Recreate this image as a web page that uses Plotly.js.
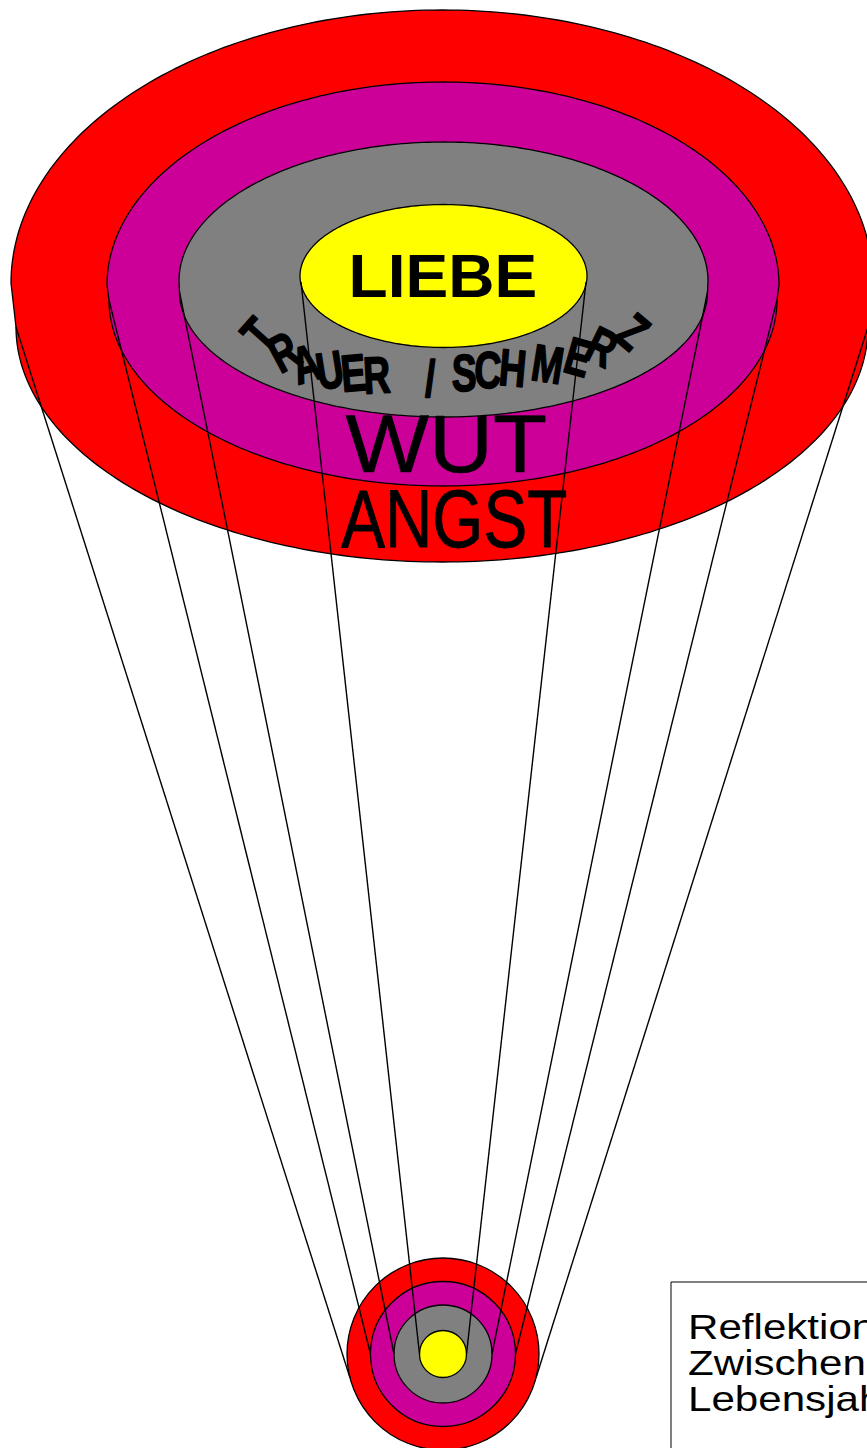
<!DOCTYPE html>
<html>
<head>
<meta charset="utf-8">
<script src="https://cdn.plot.ly/plotly-3.0.1.min.js"></script>
<style>html,body{margin:0;padding:0;background:#fff;overflow:hidden}</style>
</head>
<body>
<div id="chart" style="width:867px;height:1448px"></div>
<script>
// ---- data: layers from outside to inside ----
var layerNames  = ['ANGST', 'WUT', 'TRAUER / SCHMERZ', 'LIEBE'];
var layerColors = ['#FF0000', '#CC0099', '#808080', '#FFFF00'];
// top (rim) ellipse of each layer
var topCx = [442, 443, 443.5, 443.5];
var topCy = [283, 285, 281, 276];
var topRx = [431, 336, 264.5, 143.5];
var topRy = [273, 203, 139, 71.5];
// lower (body) ellipse of each layer
var baseCy = [327, 300, 292, 282];
var baseRx = [426, 334, 264, 142.5];
var baseRy = [235, 186, 125, 0];
// small disc at the tip of the funnel
var tipCx = 443, tipCy = 1354;
var tipR = [96, 72.5, 49, 23.5];
var coneEndY = [1378, 1354, 1354, 1354];
// curved label letters (TRAUER / SCHMERZ)
var arcChars  = ['T','R','A','U','E','R','/','S','C','H','M','E','R','Z'];
var arcX      = [259, 284, 306, 330, 353, 377, 430, 464, 488, 513, 547, 578, 602, 633];
var arcY      = [335, 352, 364, 370, 373, 375, 379, 373, 370, 368, 364, 357, 347, 332];
var arcAngle  = [-48, -28, -16, -9, -5, -3, 0, 0, 2, 5, 9, 16, 26, 40];
var boxLines = ['Reflektion', 'Zwischen', 'Lebensjahr'];

function ellipsePts(cx, cy, rx, ry, a0, a1, n) {
  var pts = [];
  for (var i = 0; i <= n; i++) {
    var a = a0 + (a1 - a0) * i / n;
    pts.push([cx + rx * Math.cos(a), cy + ry * Math.sin(a)]);
  }
  return pts;
}

var shapes = [];
for (var k = 0; k < 4; k++) {
  var pts;
  if (baseRy[k] > 0) {
    var up = ellipsePts(topCx[k], topCy[k], topRx[k], topRy[k], Math.PI, 2 * Math.PI, 160);
    var low = ellipsePts(topCx[k], baseCy[k], baseRx[k], baseRy[k], 0, Math.PI, 160);
    pts = up.concat(low);
  } else {
    pts = ellipsePts(topCx[k], topCy[k], topRx[k], topRy[k], 0, 2 * Math.PI, 200);
  }
  var d = 'M' + pts.map(function (p) { return p[0].toFixed(2) + ',' + p[1].toFixed(2); }).join('L') + 'Z';
  shapes.push({type: 'path', xref: 'x', yref: 'y', path: d, layer: 'below',
    fillcolor: layerColors[k], line: {color: '#000', width: 1.3}});
}
for (var k = 0; k < 4; k++) {
  shapes.push({type: 'circle', xref: 'x', yref: 'y', layer: 'below',
    x0: tipCx - tipR[k], x1: tipCx + tipR[k], y0: tipCy - tipR[k], y1: tipCy + tipR[k],
    fillcolor: layerColors[k], line: {color: '#000', width: 1.3}});
}
// text box (extends past the page edge)
shapes.push({type: 'rect', xref: 'paper', yref: 'paper', layer: 'below',
  x0: 671 / 867, x1: 1.5, y0: 1 - 1282 / 1448, y1: -0.5,
  fillcolor: '#fff', line: {color: '#000', width: 1}});

// cone lines as traces
var traces = [];
for (var k = 0; k < 4; k++) {
  var xl0 = topCx[k] - baseRx[k], xr0 = topCx[k] + baseRx[k];
  var endOff = (k === 0) ? Math.sqrt(tipR[0] * tipR[0] - Math.pow(coneEndY[0] - tipCy, 2)) : tipR[k];
  traces.push({type: 'scatter', mode: 'lines', hoverinfo: 'skip', showlegend: false,
    x: [xl0, tipCx - endOff, null, xr0, tipCx + endOff],
    y: [baseCy[k], coneEndY[k], null, baseCy[k], coneEndY[k]],
    line: {color: '#000', width: 1.4}});
}

var sans = '"Liberation Sans", Arial, sans-serif';
var annotations = [], stretch = [], leftAnchored = [], strokeW = [];
function addAnn(a, s, left, sw) { annotations.push(a); stretch.push(s); leftAnchored.push(!!left); strokeW.push(sw || 0); }

addAnn({xref: 'x', yref: 'y', x: 443, y: 276, text: layerNames[3], showarrow: false,
  xanchor: 'center', yanchor: 'middle', font: {family: sans, size: 61, color: '#000', weight: 700}}, 1.05);
addAnn({xref: 'x', yref: 'y', x: 446, y: 443, text: layerNames[1], showarrow: false,
  xanchor: 'center', yanchor: 'middle', font: {family: sans, size: 82, color: '#000'}}, 1.08, false, 0.6);
addAnn({xref: 'x', yref: 'y', x: 454, y: 518, text: layerNames[0], showarrow: false,
  xanchor: 'center', yanchor: 'middle', font: {family: sans, size: 82, color: '#000'}}, 0.8, false, 0.8);
for (var i = 0; i < arcChars.length; i++) {
  addAnn({xref: 'x', yref: 'y', x: arcX[i], y: arcY[i], text: arcChars[i], showarrow: false,
    textangle: arcAngle[i], xanchor: 'center', yanchor: 'middle',
    font: {family: sans, size: 52, color: '#000', weight: 700}}, 0.72, false, 1.6);
}
for (var i = 0; i < boxLines.length; i++) {
  addAnn({xref: 'x', yref: 'y', x: 686, y: 1326 + i * 36, text: boxLines[i], showarrow: false,
    xanchor: 'left', yanchor: 'middle', font: {family: sans, size: 36, color: '#000'}}, 1.17, true);
}

var layout = {
  width: 867, height: 1448,
  margin: {l: 0, r: 0, t: 0, b: 0, pad: 0},
  paper_bgcolor: '#fff', plot_bgcolor: '#fff',
  xaxis: {range: [0, 867], visible: false, fixedrange: true},
  yaxis: {range: [1448, 0], visible: false, fixedrange: true},
  shapes: shapes, annotations: annotations, showlegend: false
};
Plotly.newPlot('chart', traces, layout, {staticPlot: true, displayModeBar: false}).then(function (gd) {
  var groups = gd.querySelectorAll('g.annotation');
  for (var j = 0; j < groups.length; j++) {
    var g = groups[j];
    var idx = +g.getAttribute('data-index');
    var t = g.querySelector('text.annotation-text');
    if (!t) continue;
    if (strokeW[idx]) {
      t.style.stroke = '#000';
      t.style.strokeWidth = strokeW[idx] + 'px';
      t.style.strokeLinejoin = 'round';
    }
    var s = stretch[idx];
    if (!s || s === 1) continue;
    var bb = t.getBBox();
    var ax = leftAnchored[idx] ? bb.x : bb.x + bb.width / 2;
    t.setAttribute('transform', 'translate(' + ax + ',0) scale(' + s + ',1) translate(' + (-ax) + ',0)');
  }
});
</script>
</body>
</html>
